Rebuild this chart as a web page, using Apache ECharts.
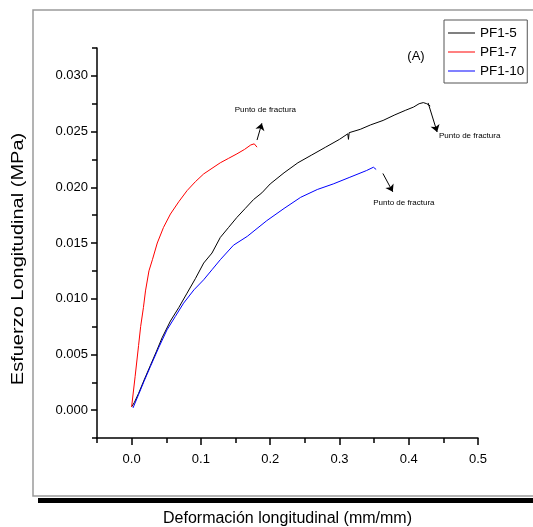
<!DOCTYPE html>
<html>
<head>
<meta charset="utf-8">
<title>Esfuerzo vs deformación</title>
<script src="https://cdn.jsdelivr.net/npm/echarts@6/dist/echarts.min.js"></script>
<style>
  html, body { margin: 0; padding: 0; background: #fff; }
  #chart { width: 533px; height: 527px; }
</style>
</head>
<body>
<div id="chart"></div>
<script>
// Stress-strain curves: [strain (mm/mm), stress (MPa)]
const pf1_5 = [
  [0.000, 0.0003], [0.004, 0.0007], [0.010, 0.0015], [0.018, 0.0027], [0.027, 0.0040],
  [0.036, 0.0053], [0.044, 0.0065], [0.056, 0.0080], [0.068, 0.0092], [0.080, 0.0105],
  [0.092, 0.0118], [0.104, 0.0132], [0.116, 0.0141], [0.128, 0.0155], [0.140, 0.0164],
  [0.152, 0.0173], [0.164, 0.0181], [0.176, 0.0189], [0.188, 0.0195], [0.200, 0.0203],
  [0.220, 0.0213], [0.240, 0.0222], [0.260, 0.0229], [0.280, 0.0236], [0.300, 0.0243],
  [0.312, 0.0248], [0.313, 0.0243], [0.314, 0.0249], [0.330, 0.0252], [0.345, 0.0256],
  [0.363, 0.0260], [0.380, 0.0265], [0.395, 0.0269], [0.407, 0.0272], [0.415, 0.0275],
  [0.421, 0.0276], [0.426, 0.0275], [0.431, 0.0273]
];
const pf1_7 = [
  [0.000, 0.0003], [0.005, 0.0030], [0.010, 0.0058], [0.013, 0.0075], [0.017, 0.0092],
  [0.020, 0.0107], [0.025, 0.0125], [0.030, 0.0135], [0.037, 0.0150], [0.046, 0.0164],
  [0.056, 0.0176], [0.068, 0.0187], [0.080, 0.0197], [0.092, 0.0205], [0.104, 0.0212],
  [0.116, 0.0217], [0.128, 0.0222], [0.140, 0.0226], [0.152, 0.0230], [0.163, 0.0234],
  [0.172, 0.0238], [0.177, 0.0239], [0.181, 0.0236]
];
const pf1_10 = [
  [0.002, 0.0002], [0.010, 0.0014], [0.018, 0.0026], [0.027, 0.0039], [0.039, 0.0056],
  [0.051, 0.0072], [0.063, 0.0084], [0.075, 0.0096], [0.090, 0.0108], [0.104, 0.0117],
  [0.116, 0.0126], [0.128, 0.0135], [0.147, 0.0148], [0.167, 0.0156], [0.181, 0.0163],
  [0.195, 0.0170], [0.220, 0.0181], [0.244, 0.0191], [0.268, 0.0198], [0.291, 0.0203],
  [0.315, 0.0209], [0.339, 0.0215], [0.349, 0.0218], [0.353, 0.0216]
];

const seriesNames = ['PF1-5', 'PF1-7', 'PF1-10'];
const seriesColors = ['#000000', '#ff0000', '#0000ff'];

// Axis ticks
const xMajor = [0.0, 0.1, 0.2, 0.3, 0.4, 0.5];
const xMinor = [-0.05, 0.05, 0.15, 0.25, 0.35, 0.45];
const yMajor = [0.000, 0.005, 0.010, 0.015, 0.020, 0.025, 0.030];
const yMinor = [-0.0025, 0.0025, 0.0075, 0.0125, 0.0175, 0.0225, 0.0275, 0.0325];

// Fracture-point annotations: arrow tail, arrow head, label centre
const fractureText = 'Punto de fractura';
const fractureArrows = [
  { tail: [0.428, 0.02757], head: [0.441, 0.02496], label: [0.488, 0.02459], curve: 0.5 },
  { tail: [0.181, 0.02424], head: [0.188, 0.02574], label: [0.193, 0.02693], curve: 0 },
  { tail: [0.3627, 0.02124], head: [0.377, 0.01959], label: [0.393, 0.01857], curve: 0 }
];

const FONT = "'Liberation Sans', Arial, sans-serif";
const chart = echarts.init(document.getElementById('chart'));

function fractureMarks(i) {
  const a = fractureArrows[i];
  return {
    markLine: {
      silent: true,
      symbol: ['none', 'arrow'],
      symbolSize: 7,
      label: { show: false },
      itemStyle: { color: '#000' },
      lineStyle: { color: '#000', width: 1, type: 'solid', curveness: a.curve },
      emphasis: { disabled: true },
      data: [[{ coord: a.tail }, { coord: a.head }]]
    },
    markPoint: {
      silent: true,
      symbol: 'circle',
      symbolSize: 1,
      itemStyle: { color: 'rgba(0,0,0,0)' },
      label: {
        show: true, position: 'inside', formatter: fractureText,
        color: '#000', fontSize: 8, fontFamily: FONT
      },
      data: [{ coord: a.label }]
    }
  };
}

const dataSets = [pf1_5, pf1_7, pf1_10];
const series = dataSets.map((d, i) => Object.assign({
  name: seriesNames[i],
  type: 'line',
  data: d,
  symbol: 'none',
  showSymbol: false,
  smooth: false,
  lineStyle: { color: seriesColors[i], width: 1 },
  itemStyle: { color: seriesColors[i] },
  z: 3
}, fractureMarks(i)));

const axisLineStyle = { color: '#000', width: 1.5 };

chart.setOption({
  animation: false,
  backgroundColor: '#fff',
  textStyle: { fontFamily: FONT },
  grid: { left: 97, top: 48, width: 381, height: 390, containLabel: false, outerBoundsMode: 'none' },
  legend: {
    orient: 'vertical',
    left: 444, top: 20,
    padding: [6, 3, 5, 4],
    itemWidth: 27, itemHeight: 14, itemGap: 5,
    borderColor: '#555', borderWidth: 1,
    icon: 'path://M0,6.5 H27 V7.5 H0 Z',
    data: seriesNames,
    textStyle: { color: '#000', fontSize: 13.5, fontFamily: FONT }
  },
  xAxis: [
    {
      type: 'value', min: -0.05, max: 0.5,
      name: 'Deformación longitudinal (mm/mm)',
      nameLocation: 'middle', nameGap: 73,
      nameTextStyle: { color: '#000', fontSize: 16, fontFamily: FONT },
      axisLine: { show: true, onZero: false, lineStyle: axisLineStyle },
      axisTick: { show: true, inside: false, length: 7, customValues: xMajor, lineStyle: axisLineStyle },
      axisLabel: {
        show: true, margin: 15, color: '#000', fontSize: 13, fontFamily: FONT,
        customValues: xMajor, formatter: v => v.toFixed(1)
      },
      splitLine: { show: false }
    },
    {
      type: 'value', min: -0.05, max: 0.5, position: 'bottom',
      axisLine: { show: false, onZero: false },
      axisTick: { show: true, inside: false, length: 5, customValues: xMinor, lineStyle: axisLineStyle },
      axisLabel: { show: false },
      splitLine: { show: false }
    }
  ],
  yAxis: [
    {
      type: 'value', min: -0.0025, max: 0.0325,
      axisLine: { show: true, onZero: false, lineStyle: axisLineStyle },
      axisTick: { show: true, inside: false, length: 6, customValues: yMajor, lineStyle: axisLineStyle },
      axisLabel: {
        show: true, margin: 9, color: '#000', fontSize: 13, fontFamily: FONT,
        customValues: yMajor, formatter: v => v.toFixed(3)
      },
      splitLine: { show: false }
    },
    {
      type: 'value', min: -0.0025, max: 0.0325, position: 'left',
      axisLine: { show: false, onZero: false },
      axisTick: { show: true, inside: false, length: 5, customValues: yMinor, lineStyle: axisLineStyle },
      axisLabel: { show: false },
      splitLine: { show: false }
    }
  ],
  graphic: [
    {
      type: 'rect', silent: true, z: -1,
      shape: { x: 33, y: 10, width: 520, height: 486 },
      style: { fill: 'none', stroke: '#9a9a9a', lineWidth: 1.5 }
    },
    {
      type: 'rect', silent: true, z: -1,
      shape: { x: 38, y: 498, width: 500, height: 5 },
      style: { fill: '#000' }
    },
    {
      type: 'text', silent: true,
      x: 416, y: 56,
      style: { text: '(A)', fill: '#000', fontSize: 13, fontFamily: FONT, align: 'center', verticalAlign: 'middle' }
    },
    {
      type: 'text', silent: true,
      x: 19, y: 259, rotation: Math.PI / 2, scaleX: 1.25,
      style: {
        text: 'Esfuerzo Longitudinal (MPa)', fill: '#000', fontSize: 16,
        fontFamily: FONT, align: 'center', verticalAlign: 'middle'
      }
    }
  ],
  series: series
});
</script>
</body>
</html>
